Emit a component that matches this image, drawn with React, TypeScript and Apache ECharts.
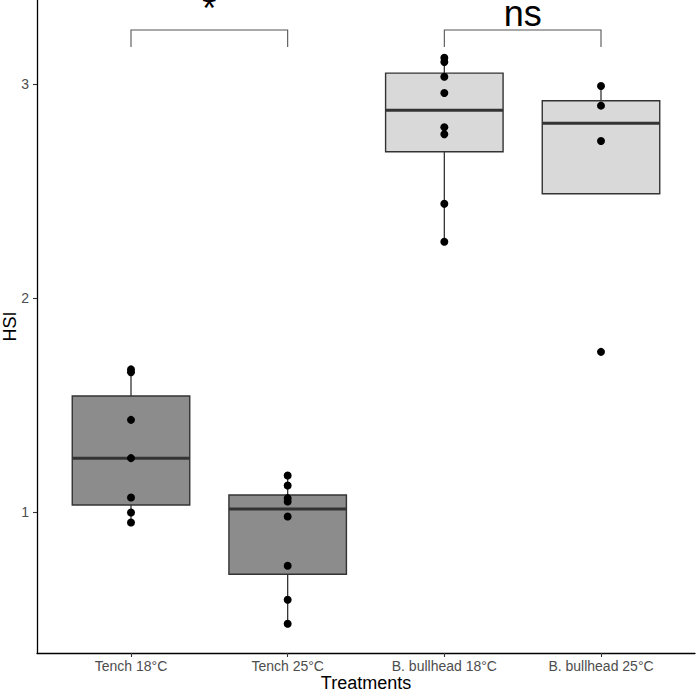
import React, { useEffect, useRef } from "react";
import * as echarts from "echarts";

// ---- data ----
const categories = ["Tench 18°C", "Tench 25°C", "B. bullhead 18°C", "B. bullhead 25°C"];
const categoryPositions = [1, 2, 3, 4];
const tench18 = [1.668, 1.655, 1.432, 1.253, 1.069, 0.999, 0.952];
const tench25 = [1.172, 1.125, 1.066, 1.05, 0.98, 0.75, 0.591, 0.479];
const bullhead18 = [3.125, 3.105, 3.036, 2.96, 2.8, 2.767, 2.442, 2.265];
const bullhead25 = [2.993, 2.901, 2.736, 1.75];
const groups = [tench18, tench25, bullhead18, bullhead25];
const boxFills = ["#8c8c8c", "#8c8c8c", "#d9d9d9", "#d9d9d9"];
const yTicks = [1, 2, 3];

// significance brackets
const bracketFrom = [1, 3];
const bracketTo = [2, 4];
const bracketLow = [3.175, 3.175];
const bracketHigh = [3.255, 3.255];
const bracketLabels = ["*", "ns"];
const bracketLabelLift = [21, 16];

// ---- helpers ----
function quantile(sorted: number[], p: number) {
  const h = (sorted.length - 1) * p;
  const lo = Math.floor(h);
  const hi = Math.min(lo + 1, sorted.length - 1);
  return sorted[lo] + (h - lo) * (sorted[hi] - sorted[lo]);
}
function boxStats(values: number[]) {
  const s = [...values].sort((a, b) => a - b);
  const q1 = quantile(s, 0.25);
  const med = quantile(s, 0.5);
  const q3 = quantile(s, 0.75);
  const iqr = q3 - q1;
  const inl = s.filter((v) => v >= q1 - 1.5 * iqr && v <= q3 + 1.5 * iqr);
  const low = Math.min(inl[0], q1);
  const high = Math.max(inl[inl.length - 1], q3);
  return [low, q1, med, q3, high];
}

const FONT = "'Liberation Sans', Arial, Helvetica, sans-serif";

export default function App() {
  const ref = useRef<HTMLDivElement>(null);
  useEffect(() => {
    if (!ref.current) return;
    const chart = echarts.init(ref.current, undefined, { renderer: "svg" });

    const boxData = groups.map((g, i) => [categoryPositions[i], ...boxStats(g), i]);
    const pointData: number[][] = [];
    groups.forEach((g, i) => g.forEach((v) => pointData.push([categoryPositions[i], v])));
    const bracketData = bracketFrom.map((f, i) => [f, bracketTo[i], bracketLow[i], bracketHigh[i], i]);

    const option: any = {
      animation: false,
      backgroundColor: "#ffffff",
      grid: { left: 37, right: 1, top: 0, bottom: 40, containLabel: false, outerBoundsMode: "none" },
      xAxis: {
        type: "value",
        min: 0.4,
        max: 4.6,
        splitLine: { show: false },
        axisLine: { show: true, lineStyle: { color: "#000", width: 1.3 } },
        axisTick: { show: true, customValues: categoryPositions, length: 4, lineStyle: { color: "#333", width: 1.1 } },
        axisLabel: {
          customValues: categoryPositions,
          formatter: (v: number) => categories[Math.round(v) - 1] ?? "",
          color: "#4d4d4d",
          fontSize: 14,
          fontFamily: FONT,
          margin: 6,
        },
        name: "Treatments",
        nameLocation: "middle",
        nameGap: 21,
        nameMoveOverlap: false,
        nameTextStyle: { color: "#000", fontSize: 18, fontFamily: FONT },
      },
      yAxis: {
        type: "value",
        min: 0.342,
        max: 3.395,
        splitLine: { show: false },
        axisLine: { show: true, lineStyle: { color: "#000", width: 1.3 } },
        axisTick: { show: true, customValues: yTicks, length: 4, lineStyle: { color: "#333", width: 1.1 } },
        axisLabel: {
          customValues: yTicks,
          color: "#4d4d4d",
          fontSize: 14,
          fontFamily: FONT,
          margin: 8,
        },
        name: "HSI",
        nameLocation: "middle",
        nameGap: 18,
        nameMoveOverlap: false,
        nameTextStyle: { color: "#000", fontSize: 18, fontFamily: FONT, lineHeight: 18 },
      },
      series: [
        {
          type: "custom",
          data: boxData,
          encode: { x: 0, y: [1, 2, 3, 4, 5] },
          z: 2,
          renderItem: (params: any, api: any) => {
            const x = api.value(0);
            const lowP = api.coord([x, api.value(1)]);
            const q1P = api.coord([x, api.value(2)]);
            const medP = api.coord([x, api.value(3)]);
            const q3P = api.coord([x, api.value(4)]);
            const highP = api.coord([x, api.value(5)]);
            const fill = boxFills[api.value(6)];
            const halfW = api.size([0.75, 0])[0] / 2;
            const cx = q1P[0];
            const stroke = "#333333";
            return {
              type: "group",
              children: [
                { type: "line", shape: { x1: cx, y1: q3P[1], x2: cx, y2: highP[1] }, style: { stroke, lineWidth: 1.3 } },
                { type: "line", shape: { x1: cx, y1: q1P[1], x2: cx, y2: lowP[1] }, style: { stroke, lineWidth: 1.3 } },
                {
                  type: "rect",
                  shape: { x: cx - halfW, y: q3P[1], width: halfW * 2, height: q1P[1] - q3P[1] },
                  style: { fill, stroke, lineWidth: 1.4 },
                },
                { type: "line", shape: { x1: cx - halfW, y1: medP[1], x2: cx + halfW, y2: medP[1] }, style: { stroke, lineWidth: 3 } },
              ],
            };
          },
        },
        {
          type: "scatter",
          data: pointData,
          symbol: "circle",
          symbolSize: 8,
          itemStyle: { color: "#000", opacity: 1 },
          z: 5,
        },
        {
          type: "custom",
          data: bracketData,
          encode: { x: [0, 1], y: [2, 3] },
          clip: false,
          z: 6,
          renderItem: (params: any, api: any) => {
            const a = api.coord([api.value(0), api.value(2)]);
            const b = api.coord([api.value(0), api.value(3)]);
            const c = api.coord([api.value(1), api.value(3)]);
            const d = api.coord([api.value(1), api.value(2)]);
            const idx = api.value(4);
            return {
              type: "group",
              children: [
                {
                  type: "polyline",
                  shape: { points: [a, b, c, d] },
                  style: { stroke: "#555555", lineWidth: 1.1, fill: null },
                },
                {
                  type: "text",
                  x: (b[0] + c[0]) / 2,
                  y: b[1] - bracketLabelLift[idx],
                  style: {
                    text: bracketLabels[idx],
                    fill: "#000",
                    fontSize: 36,
                    lineHeight: 28,
                    fontFamily: FONT,
                    align: "center",
                    verticalAlign: "middle",
                  },
                },
              ],
            };
          },
        },
      ],
    };
    chart.setOption(option);
    return () => chart.dispose();
  }, []);

  return (
    <div
      ref={ref}
      style={{ position: "fixed", left: 0, top: 0, width: 696, height: 693, background: "#fff" }}
    />
  );
}
